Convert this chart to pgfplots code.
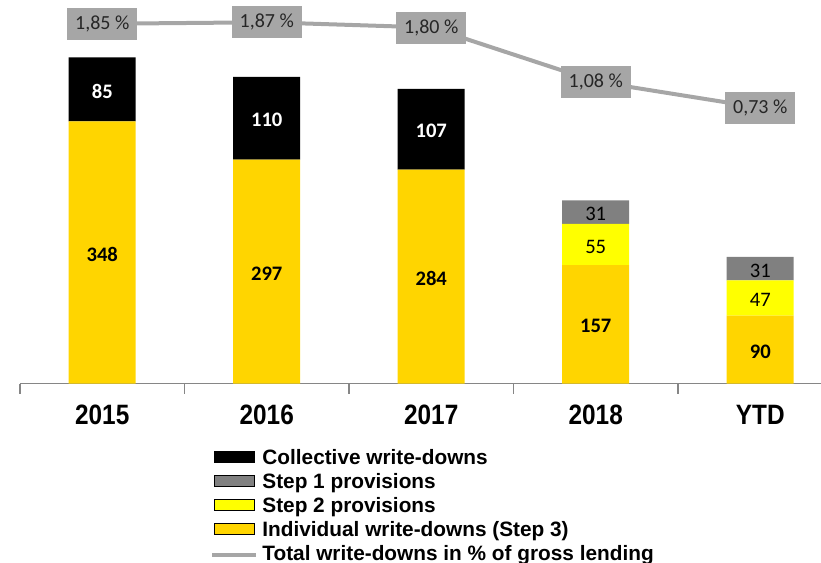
\documentclass[border=0pt]{standalone}
\usepackage{fontspec}
\setmainfont{Liberation Sans}
\newfontfamily\calibri{Carlito}
\newfontfamily\narrow{Liberation Sans}[FakeStretch=0.87]
\usepackage{pgfplots}
\pgfplotsset{compat=1.18}

\definecolor{gold}{RGB}{255,213,0}
\definecolor{steptwo}{RGB}{255,255,0}
\definecolor{stepone}{RGB}{128,128,128}
\definecolor{linegray}{RGB}{166,166,166}
\definecolor{axisgray}{RGB}{134,134,134}

\pgfplotsset{
  base/.style={scale only axis, width=411.25pt, height=191.75pt,
    xmin=-0.5, xmax=4.5},
  patch/.style={legend image code/.code={\fill[##1] (1pt,-1.25pt) rectangle (21pt,4.25pt);}},
  lineimg/.style={legend image code/.code={\draw[##1] (0pt,0pt) -- (22pt,0pt);}},
}

\begin{document}
\begin{tikzpicture}
\begin{axis}[base,
  ybar stacked, bar width=33.5pt,
  ymin=0, ymax=509,
  axis y line=none,
  axis x line*=bottom,
  x axis line style={axisgray, line width=0.75pt},
  xtick={0,1,2,3,4},
  xticklabels={2015,2016,2017,2018,YTD},
  major tick length=0pt,
  minor xtick={-0.5,0.5,1.5,2.5,3.5,4.5},
  minor tick length=5pt,
  tick align=outside,
  minor tick style={axisgray, line width=0.75pt},
  xticklabel style={font=\narrow\bfseries\fontsize{14}{14}\selectfont, anchor=base, yshift=-20.25pt, inner sep=0pt},
  visualization depends on={rawy \as \rawy},
  nodes near coords={\ifdim\rawy pt>0pt \pgfmathprintnumber[assume math mode=true]{\rawy}\fi},
  every node near coord/.append style={anchor=center, yshift=-1pt, text=black,
    font=\calibri\fontsize{10.3}{12}\selectfont},
  legend cell align=left,
  legend style={draw=none, fill=none, at={(0.231,-0.1708)}, anchor=north west,
    font=\bfseries\fontsize{10.4}{12}\selectfont,
    row sep=2pt, inner sep=0pt,
    nodes={inner sep=0pt, text height=7.5pt, text depth=2.5pt},
    /tikz/every odd column/.style={column sep=2pt}},
]
\addplot[fill=gold, draw=none, forget plot,
  every node near coord/.append style={font=\calibri\bfseries\fontsize{10.3}{12}\selectfont}]
  coordinates {(0,348) (1,297) (2,284) (3,157) (4,90)};
\addplot[fill=steptwo, draw=none, forget plot]
  coordinates {(0,0) (1,0) (2,0) (3,55) (4,47)};
\addplot[fill=stepone, draw=none, forget plot]
  coordinates {(0,0) (1,0) (2,0) (3,31) (4,31)};
\addplot[fill=black, draw=none, forget plot,
  every node near coord/.append style={text=white, font=\calibri\bfseries\fontsize{10.3}{12}\selectfont}]
  coordinates {(0,85) (1,110) (2,107) (3,0) (4,0)};

\addlegendimage{patch, fill=black}
\addlegendentry{Collective write-downs}
\addlegendimage{patch, fill=stepone}
\addlegendentry{Step 1 provisions}
\addlegendimage{patch, fill=steptwo}
\addlegendentry{Step 2 provisions}
\addlegendimage{patch, fill=gold}
\addlegendentry{Individual write-downs (Step 3)}
\addlegendimage{lineimg, linegray, line width=2pt}
\addlegendentry{Total write-downs in \% of gross lending}
\end{axis}

\begin{axis}[base, hide axis, ymin=-2.946, ymax=2.167, clip=false,
  nodes near coords={\pgfmathprintnumber[fixed,fixed zerofill,precision=2,use comma,assume math mode=true]{\pgfplotspointmeta}~\%},
  every node near coord/.append style={anchor=center, fill=linegray, text=black!85,
    font=\calibri\fontsize{10}{12}\selectfont, inner xsep=4pt, minimum height=16pt}]
\addplot[linegray, line width=2pt, mark=none]
  coordinates {(0,1.85) (1,1.87) (2,1.80) (3,1.08) (4,0.73)};
\end{axis}

\pgfresetboundingbox
\path[use as bounding box] ([shift={(-10pt,-89.75pt)}]current axis.south west)
  rectangle ([shift={(400.5pt,191.75pt)}]current axis.south west);
\end{tikzpicture}
\end{document}
